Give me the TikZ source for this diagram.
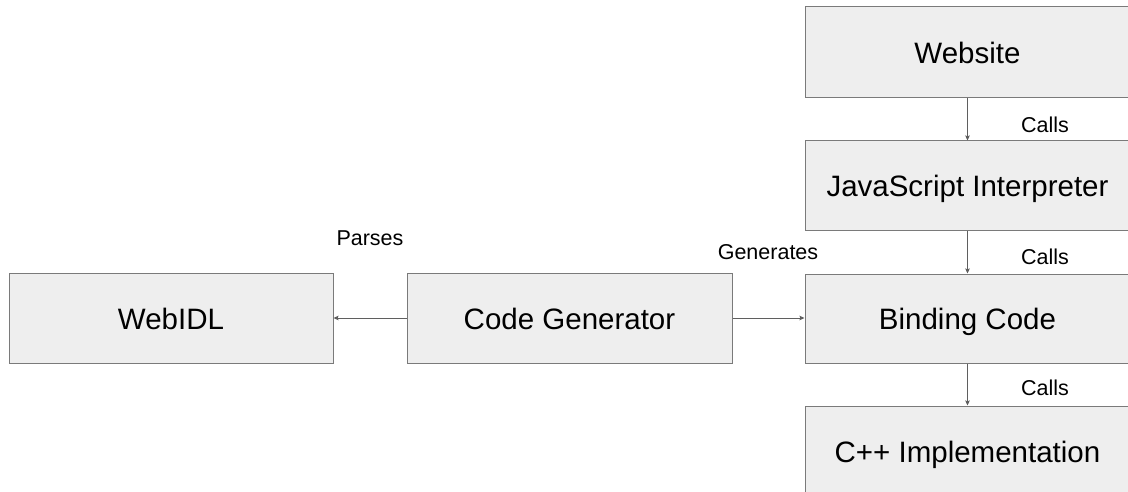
\documentclass[tikz,border=0pt]{standalone}
\usepackage{fontspec}
\setmainfont{Liberation Sans}
\usetikzlibrary{arrows.meta}
\definecolor{boxfill}{HTML}{EEEEEE}
\definecolor{boxline}{HTML}{7A7A7A}
\definecolor{linkline}{HTML}{5F5F5F}
\tikzset{
  x=1pt, y=-1pt,
  block/.style={draw=boxline, fill=boxfill, line width=1pt, inner sep=0pt,
    text height=22pt, text depth=0pt,
    minimum width=325pt, minimum height=90pt, font=\fontsize{29.5}{34}\selectfont},
  link/.style={draw=linkline, line width=0.9pt,
    -{Stealth[length=5pt, width=4.5pt, inset=0.8pt]}},
  tag/.style={font=\fontsize{21.5}{25}\selectfont, inner sep=0pt},
}
\begin{document}
\begin{tikzpicture}
\useasboundingbox (0,0) rectangle (1128,492);
\begin{scope}
\clip (0,0) rectangle (1128,492);
\node[block, minimum height=91pt] (website) at (967.5,52.5) {Website};
\node[block, minimum height=89pt] (js) at (967.5,185.5) {JavaScript Interpreter};
\node[block, minimum height=89pt] (binding) at (967.5,318.5) {Binding Code};
\node[block] (cpp) at (967.5,451) {C++ Implementation};
\node[block, minimum width=324pt] (webidl) at (171,318) {WebIDL};
\node[block] (codegen) at (569.5,318) {Code Generator};
\end{scope}

\draw[link] (codegen.west) -- (webidl.east);
\draw[link] (codegen.east) -- (binding.west |- codegen.east);
\draw[link] (website.south) -- (js.north);
\draw[link] (js.south) -- (binding.north);
\draw[link] (binding.south) -- (cpp.north);

\node[tag] (parses) at (370,238) {Parses};
\node[tag] (generates) at (768,252) {Generates};
\node[tag] (calls1) at (1045,125) {Calls};
\node[tag] (calls2) at (1045,257) {Calls};
\node[tag] (calls3) at (1045,388) {Calls};
\end{tikzpicture}
\end{document}
